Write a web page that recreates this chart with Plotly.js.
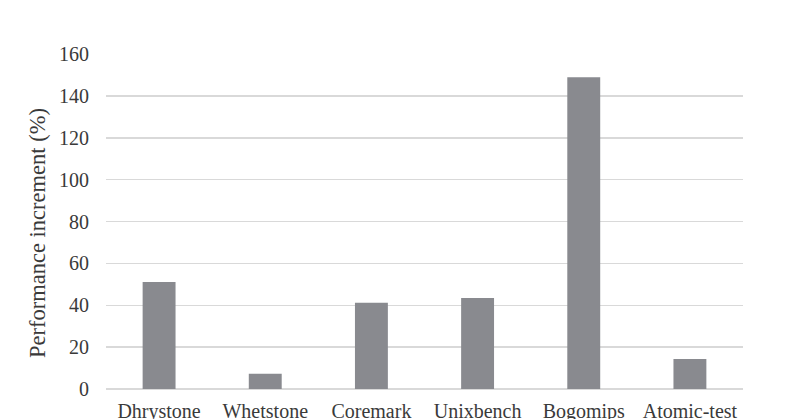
<!DOCTYPE html>
<html>
<head>
<meta charset="utf-8">
<script src="https://cdn.plot.ly/plotly-3.0.1.min.js"></script>
<style>html,body{margin:0;padding:0;background:#fff;overflow:hidden}#chart{width:800px;height:419px}</style>
</head>
<body>
<div id="chart"></div>
<script>
const categories = ["Dhrystone", "Whetstone", "Coremark", "Unixbench", "Bogomips", "Atomic-test"];
const increments = [51.1, 7.3, 41.2, 43.5, 148.9, 14.3];
const yTicks = [0, 20, 40, 60, 80, 100, 120, 140, 160];
const yTitle = "Performance increment (%)";

const font = {family: "Liberation Serif, Times New Roman, serif", size: 20, color: "#3a3a3a"};

Plotly.newPlot("chart", [{
  type: "bar",
  x: categories,
  y: increments,
  marker: {color: "#898a8f"},
  hoverinfo: "x+y"
}], {
  width: 800, height: 419,
  margin: {l: 106, r: 57, t: 54, b: 30, pad: 0},
  paper_bgcolor: "#fff", plot_bgcolor: "#fff",
  bargap: 0.69,
  showlegend: false,
  font: font,
  xaxis: {
    showgrid: false, showline: false, zeroline: false,
    ticks: "", tickfont: font, ticklabelstandoff: 8
  },
  yaxis: {
    range: [0, 160], tickvals: yTicks, ticktext: yTicks.map(String),
    showgrid: true, gridcolor: "#d9d9d9", gridwidth: 1.5,
    zeroline: true, zerolinecolor: "#d9d9d9", zerolinewidth: 1.5,
    showline: false, ticks: "", tickfont: font, ticklabelstandoff: 16
  },
  annotations: [{
    text: yTitle, textangle: -90, showarrow: false,
    xref: "paper", yref: "paper",
    x: (37 - 106) / 637, y: (389 - 233) / 335,
    xanchor: "center", yanchor: "middle",
    font: {family: font.family, size: 22.5, color: "#3a3a3a"}
  }]
}, {displayModeBar: false, staticPlot: true});
</script>
</body>
</html>
